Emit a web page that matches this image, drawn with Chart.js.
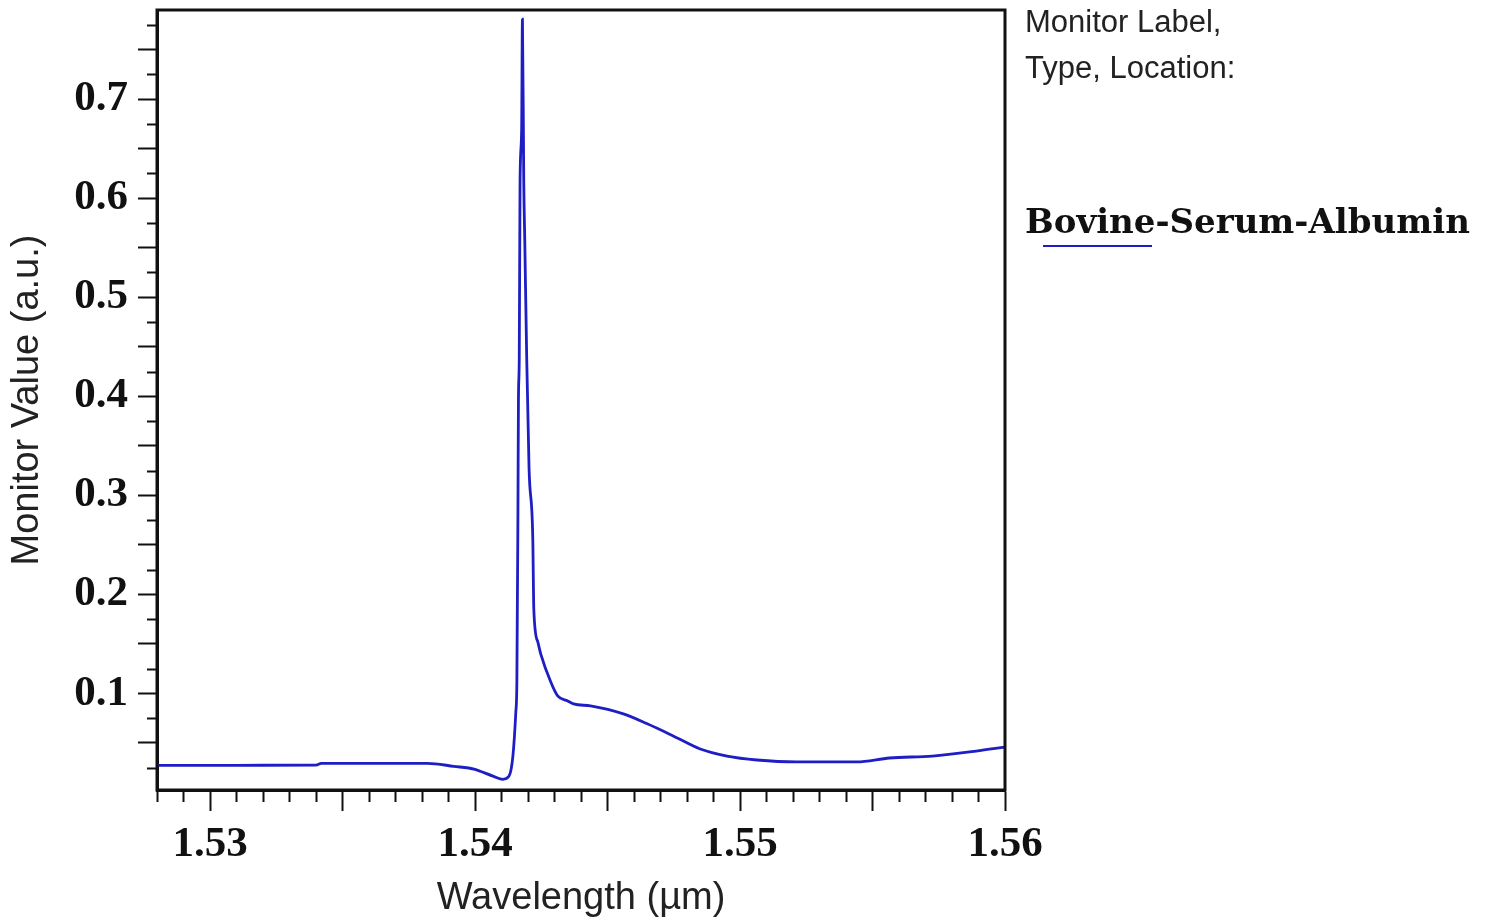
<!DOCTYPE html>
<html>
<head>
<meta charset="utf-8">
<script src="https://cdn.jsdelivr.net/npm/chart.js@4.4.1/dist/chart.umd.min.js"></script>
<style>
  html, body { margin: 0; padding: 0; background: #fff; }
  #wrap { position: relative; width: 1498px; height: 924px; }
  #legend { position: absolute; left: 1025px; top: 0; font-family: "Liberation Sans", Arial, sans-serif; color: #222; }
  #legend .hdr { position: absolute; left: 0; white-space: nowrap; font-size: 31px; line-height: 31px; }
  #legend .name { position: absolute; left: 0; top: 204px; white-space: nowrap; font-family: "DejaVu Serif", serif; font-weight: bold; font-size: 34px; line-height: 34px; color: #111; }
  #legend .swatch { position: absolute; left: 18px; top: 245px; width: 109px; height: 2px; }
</style>
</head>
<body>
<div id="wrap">
  <canvas id="chart" width="1498" height="924"></canvas>
  <div id="legend">
    <div class="hdr" style="top:6px">Monitor Label,</div>
    <div class="hdr" style="top:52px">Type, Location:</div>
    <div class="name" id="seriesName"></div>
    <div class="swatch" id="seriesSwatch"></div>
  </div>
</div>
<script>
// Data
const seriesLabel = 'Bovine-Serum-Albumin';
const wavelength = [
  1.5280, 1.5300, 1.5320, 1.5340, 1.5342, 1.5360, 1.5382, 1.5392, 1.5400, 1.5402,
  1.5407, 1.54105, 1.54128, 1.54143, 1.54154, 1.54158, 1.54162, 1.54164, 1.54167, 1.5417,
  1.54176, 1.54179, 1.54184, 1.54188, 1.54195, 1.54204, 1.54218, 1.54222, 1.54237, 1.54248,
  1.54286, 1.54312, 1.5435, 1.54372, 1.54436, 1.5456, 1.5465, 1.54748, 1.5485, 1.54951,
  1.55064, 1.55214, 1.5544, 1.55564, 1.55726, 1.55891, 1.5600
];
const monitorValue = [
  0.0274, 0.0274, 0.0275, 0.0276, 0.0294, 0.0294, 0.0294, 0.0264, 0.0234, 0.0214,
  0.0163, 0.0133, 0.0163, 0.0367, 0.0810, 0.1120, 0.2810, 0.3980, 0.4380, 0.6170,
  0.6690, 0.7807, 0.6170, 0.5548, 0.4404, 0.3270, 0.2575, 0.1845, 0.1520, 0.1400,
  0.1115, 0.0975, 0.0924, 0.0894, 0.0874, 0.0793, 0.0693, 0.0571, 0.0439, 0.0368,
  0.0328, 0.0308, 0.0308, 0.0348, 0.0368, 0.0418, 0.0459
];
const xTickLabels = [1.53, 1.54, 1.55, 1.56];
const yTickLabels = [0.1, 0.2, 0.3, 0.4, 0.5, 0.6, 0.7];

const lineColor = '#1e1ec4';
const axisColor = '#111';
const xMin = 1.528, xMax = 1.56, xMinor = 0.001, xMajor = 0.005;
const yMin = 0.0025, yMax = 0.79, yMinor = 0.025, yMajor = 0.05;

document.getElementById('seriesName').textContent = seriesLabel;
document.getElementById('seriesSwatch').style.background = lineColor;

const near = (v, step) => Math.abs(v / step - Math.round(v / step)) < 1e-6;
const tickList = (lo, hi, step) => {
  const out = [];
  for (let i = Math.ceil(lo / step - 1e-9); i * step <= hi + 1e-9; i++) out.push({ value: +(i * step).toFixed(6) });
  return out;
};

// short minor ticks + plot frame
const frameAndMinor = {
  id: 'frameAndMinor',
  afterDraw(chart) {
    const { ctx, chartArea: a, scales } = chart;
    ctx.save();
    ctx.strokeStyle = axisColor;
    ctx.lineWidth = 2;
    scales.x.ticks.forEach(t => {
      if (near(t.value, xMajor)) return;
      const px = Math.round(scales.x.getPixelForValue(t.value)) + 0.5;
      ctx.beginPath(); ctx.moveTo(px, a.bottom); ctx.lineTo(px, a.bottom + 12); ctx.stroke();
    });
    scales.y.ticks.forEach(t => {
      if (near(t.value, yMajor)) return;
      const py = Math.round(scales.y.getPixelForValue(t.value)) + 0.5;
      ctx.beginPath(); ctx.moveTo(a.left, py); ctx.lineTo(a.left - 10, py); ctx.stroke();
    });
    ctx.lineWidth = 3;
    ctx.strokeRect(a.left, a.top, a.right - a.left, a.bottom - a.top);
    ctx.restore();
  }
};

const tickFont = { family: '"Liberation Serif", serif', weight: 'bold', size: 43 };
const titleFont = { family: '"Liberation Sans", Arial, sans-serif', size: 38 };

new Chart(document.getElementById('chart'), {
  type: 'line',
  data: {
    datasets: [{
      label: seriesLabel,
      data: wavelength.map((w, i) => ({ x: w, y: monitorValue[i] })),
      borderColor: lineColor,
      borderWidth: 2.8,
      pointRadius: 0,
      fill: false,
      cubicInterpolationMode: 'monotone',
      clip: 2
    }]
  },
  options: {
    responsive: false,
    animation: false,
    layout: { padding: { top: 10, right: 493, bottom: 0, left: 0 } },
    plugins: { legend: { display: false }, tooltip: { enabled: false } },
    scales: {
      x: {
        type: 'linear',
        min: xMin, max: xMax,
        afterBuildTicks: s => { s.ticks = tickList(xMin, xMax, xMinor); },
        afterFit: s => { s.height = 134; s.paddingLeft = 0; s.paddingRight = 0; },
        border: { display: true, color: axisColor, width: 3 },
        grid: {
          drawOnChartArea: false,
          tickLength: 21,
          tickWidth: 2,
          tickColor: c => (c.tick && near(c.tick.value, xMajor)) ? axisColor : 'rgba(0,0,0,0)'
        },
        ticks: {
          autoSkip: false, maxRotation: 0, padding: 8,
          color: '#111',
          font: tickFont,
          callback: v => {
            const hit = xTickLabels.find(l => Math.abs(l - v) < 1e-6);
            return hit !== undefined ? hit.toFixed(2) : '';
          }
        },
        title: {
          display: true, text: 'Wavelength (\u00b5m)', color: '#222',
          font: titleFont,
          padding: { top: 0, bottom: 3 }
        }
      },
      y: {
        type: 'linear',
        min: yMin, max: yMax,
        afterBuildTicks: s => { s.ticks = tickList(yMin, yMax, yMinor); },
        afterFit: s => { s.width = 157; s.paddingTop = 0; s.paddingBottom = 0; },
        border: { display: true, color: axisColor, width: 3 },
        grid: {
          drawOnChartArea: false,
          tickLength: 19,
          tickWidth: 2,
          tickColor: c => (c.tick && near(c.tick.value, yMajor)) ? axisColor : 'rgba(0,0,0,0)'
        },
        ticks: {
          autoSkip: false, padding: 10,
          color: '#111',
          font: tickFont,
          callback: v => {
            const hit = yTickLabels.find(l => Math.abs(l - v) < 1e-6);
            return hit !== undefined ? hit.toFixed(1) : '';
          }
        },
        title: {
          display: true, text: 'Monitor Value (a.u.)', color: '#222',
          font: titleFont,
          padding: { top: 5, bottom: 0 }
        }
      }
    }
  },
  plugins: [frameAndMinor]
});
</script>
</body>
</html>
